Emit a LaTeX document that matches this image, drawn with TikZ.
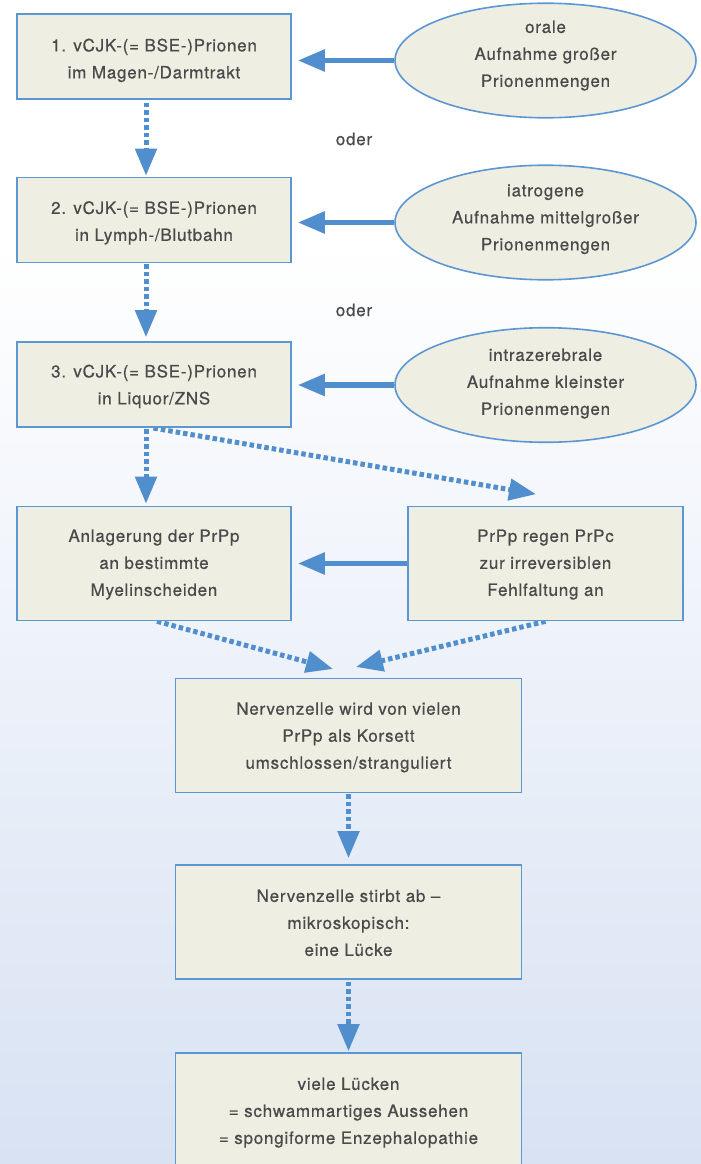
\documentclass[tikz,border=0pt]{standalone}
\usepackage{fontspec}
\setmainfont{TeX Gyre Heros}[LetterSpace=4.5,FakeBold=0.6]
\usetikzlibrary{shapes.geometric,arrows.meta}
\definecolor{boxfill}{RGB}{238,238,227}
\definecolor{boxline}{RGB}{92,151,211}
\definecolor{arrowc}{RGB}{80,142,206}
\definecolor{txt}{RGB}{74,74,74}
\definecolor{bgbot}{RGB}{216,226,243}
\newcommand\mytxt[2]{\raisebox{#1}[\height][\depth]{\begin{tabular}{@{}c@{}}#2\end{tabular}}}
\pgfdeclarelayer{bg}
\pgfdeclarelayer{arr}
\pgfsetlayers{bg,arr,main}
\begin{document}
\begin{tikzpicture}[x=1pt,y=-1pt,
  box/.style={draw=boxline, line width=1.6pt, fill=boxfill, minimum width=274pt,
    minimum height=85pt, inner sep=0pt, text=txt, font=\fontsize{17}{27}\selectfont},
  tallbox/.style={box, minimum height=114pt},
  widebox/.style={tallbox, minimum width=346pt},
  ell/.style={ellipse, box, minimum width=301pt, minimum height=111pt},
  lbl/.style={text=txt, font=\fontsize{17}{27}\selectfont, inner sep=0pt},
  solidarrow/.style={draw=arrowc, line width=5.5pt, -{Triangle[length=27pt,width=21pt]}},
  dotarrow/.style={solidarrow, line width=5pt, dash pattern=on 4.5pt off 3pt},
]
\useasboundingbox (0,0) rectangle (701,1164);
\begin{pgfonlayer}{bg}
\fill[white] (0,0) rectangle (701,240);
\shade[top color=white, bottom color=bgbot] (0,240) rectangle (701,1164);
\end{pgfonlayer}

% boxes
\node[box] (b1) at (154,56.5) {\mytxt{-3pt}{1. vCJK-(= BSE-)Prionen\\im Magen-/Darmtrakt}};
\node[box] (b2) at (154,220) {\mytxt{-2pt}{2. vCJK-(= BSE-)Prionen\\in Lymph-/Blutbahn}};
\node[box] (b3) at (154,384.5) {\mytxt{-1pt}{3. vCJK-(= BSE-)Prionen\\in Liquor/ZNS}};
\node[ell] (e1) at (545.5,60.5) {\mytxt{6pt}{orale\\Aufnahme großer\\Prionenmengen}};
\node[ell] (e2) at (545.5,222.5) {\mytxt{4.5pt}{iatrogene\\Aufnahme mittelgroßer\\Prionenmengen}};
\node[ell] (e3) at (545.5,385) {\mytxt{2.5pt}{intrazerebrale\\Aufnahme kleinster\\Prionenmengen}};
\node[lbl] (o1) at (354,139) {oder};
\node[lbl] (o2) at (354,310) {oder};
\node[tallbox] (b4) at (154,563.5) {\mytxt{0pt}{Anlagerung der PrPp\\an bestimmte\\Myelinscheiden}};
\node[tallbox, minimum width=275pt] (b5) at (545.5,563.5) {\mytxt{0pt}{PrPp regen PrPc\\zur irreversiblen\\Fehlfaltung an}};
\node[widebox] (b6) at (348.5,735.3) {\mytxt{-1pt}{Nervenzelle wird von vielen\\PrPp als Korsett\\umschlossen/stranguliert}};
\node[widebox] (b7) at (348.5,922) {\mytxt{-1.5pt}{Nervenzelle stirbt ab \textendash\\mikroskopisch:\\eine Lücke}};
\node[widebox] (b8) at (348.5,1110) {\mytxt{-1.5pt}{viele Lücken\\= schwammartiges Aussehen\\= spongiforme Enzephalopathie}};

% free ends of diagonal connectors
\coordinate (t5) at ([xshift=-9.5pt,yshift=11.5pt]b5.north);
\coordinate (t6a) at ([xshift=-15.5pt,yshift=8.5pt]b6.north);
\coordinate (t6b) at ([xshift=7.5pt,yshift=10.5pt]b6.north);

\begin{pgfonlayer}{arr}
\draw[solidarrow, shorten >=6pt] (e1.west) -- (e1.west -| b1.east);
\draw[solidarrow, shorten >=6pt] (e2.west) -- (e2.west -| b2.east);
\draw[solidarrow, shorten >=6pt] (e3.west) -- (e3.west -| b3.east);
\draw[solidarrow, shorten >=6pt] (b5.west) -- (b4.east);
\draw[dotarrow, shorten <=3pt, shorten >=1pt] ([xshift=-8pt]b1.south) -- ([xshift=-8pt]b2.north);
\draw[dotarrow, shorten <=1pt, shorten >=4pt] ([xshift=-8pt]b2.south) -- ([xshift=-8pt]b3.north);
\draw[dotarrow, shorten <=1.5pt, shorten >=2pt] ([xshift=-8pt]b3.south) -- ([xshift=-8pt]b4.north);
\draw[dotarrow, shorten <=1.5pt] ([xshift=-2pt]b3.south) -- (t5);
\draw[dotarrow] ([xshift=3pt]b4.south) -- (t6a);
\draw[dotarrow] (b5.south) -- (t6b);
\draw[dotarrow, shorten <=1pt, shorten >=6pt] (b6.south) -- (b7.north);
\draw[dotarrow, shorten <=2pt, shorten >=1pt] (b7.south) -- (b8.north);
\end{pgfonlayer}
\end{tikzpicture}
\end{document}
